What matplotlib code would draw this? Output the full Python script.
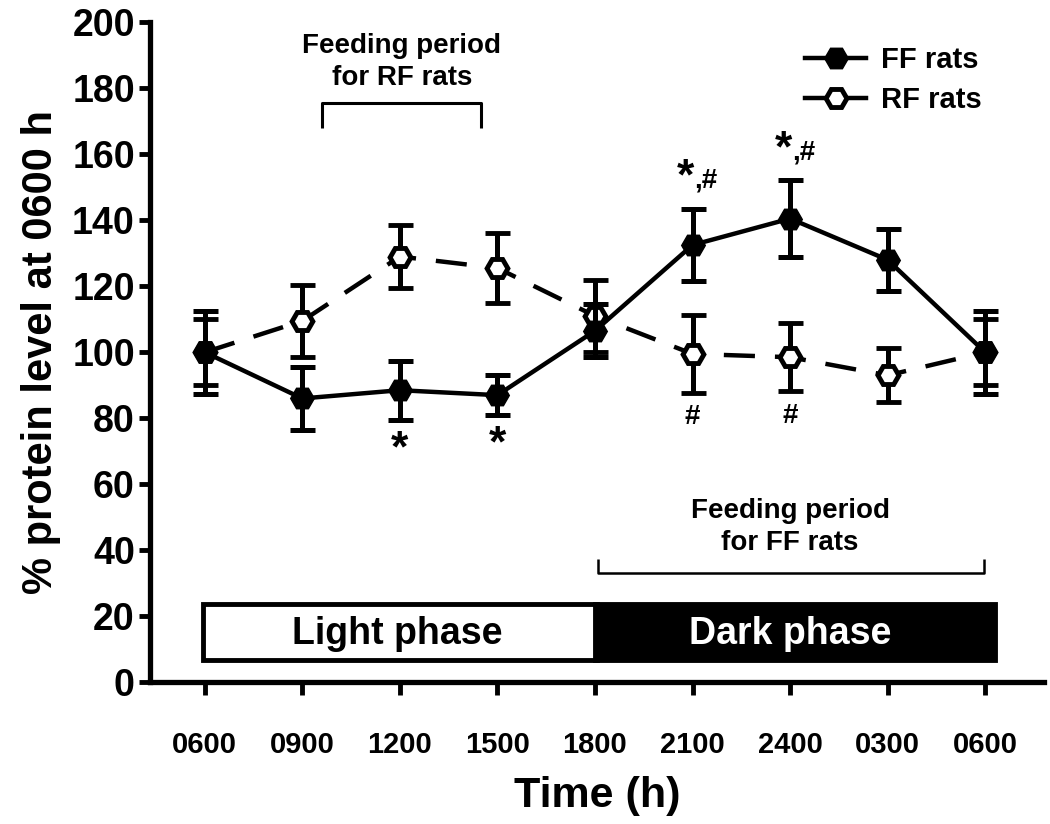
import matplotlib
matplotlib.use("Agg")
import matplotlib.pyplot as plt
import matplotlib.patches as mpatches
import matplotlib.font_manager as fm
from matplotlib.lines import Line2D
import numpy as np

# font choice: Arial-like bold, narrow variant for some labels if present
def pick(families):
    for f in families:
        try:
            fm.findfont(fm.FontProperties(family=f), fallback_to_default=False)
            return f
        except Exception:
            pass
    return "DejaVu Sans"

MAIN = pick(["Liberation Sans", "Arial", "DejaVu Sans"])
NARROW = pick(["Liberation Sans Narrow", "Arial Narrow", MAIN])
plt.rcParams["font.family"] = MAIN
plt.rcParams["font.weight"] = "bold"

# ── data ────────────────────────────────────────────────
time_labels = ["0600", "0900", "1200", "1500", "1800", "2100", "2400", "0300", "0600"]
ff_mean = [100, 86.0, 88.5, 87.0, 106.5, 132.5, 140.5, 128.0, 100]
ff_err = [12.5, 9.5, 9.0, 6.0, 8.0, 11.0, 11.7, 9.5, 12.5]
rf_mean = [100, 109.5, 129.0, 125.5, 111.0, 99.5, 98.5, 93.0, 100]
rf_err = [10.0, 11.0, 9.5, 10.5, 11.0, 11.8, 10.3, 8.2, 10.0]

star_below = [2, 3]               # '*' below FF points
hash_below = [5, 6]               # '#' below RF points
star_hash = [5, 6]                # '*,#' above FF points

x = np.arange(len(time_labels))

fig = plt.figure(figsize=(10.5, 8.24), dpi=100)
ax = fig.add_axes([0.143, 0.172, 0.851, 0.801])

# ── series ──────────────────────────────────────────────
ax.errorbar(x, rf_mean, yerr=rf_err, color="black", lw=3.2, dashes=(7, 4.5),
            marker="H", ms=15, mfc="white", mec="black", mew=3.5,
            elinewidth=3.6, capsize=9, capthick=3.6, zorder=3)
ax.errorbar(x, ff_mean, yerr=ff_err, color="black", lw=3.2, ls="-",
            marker="H", ms=17, mfc="black", mec="black",
            elinewidth=3.6, capsize=9, capthick=3.6, zorder=4)

# ── significance marks ─────────────────────────────────
for i in star_below:
    ax.text(x[i], ff_mean[i] - ff_err[i] - 3, "*", ha="center", va="top",
            fontsize=32, fontweight="bold")
for i in hash_below:
    ax.text(x[i], rf_mean[i] - rf_err[i] - 3.5, "#", ha="center", va="top",
            fontsize=20, fontweight="bold")
for i in star_hash:
    y0 = ff_mean[i] + ff_err[i] + 3.0
    ax.text(x[i] + 0.02, y0, "*", ha="right", va="bottom",
            fontsize=32, fontweight="bold")
    ax.text(x[i] + 0.02, y0 + 1.5, ",#", ha="left", va="bottom",
            fontsize=20, fontweight="bold")

# ── feeding period brackets ────────────────────────────
ax.plot([1.2, 1.2, 2.83, 2.83], [168, 175.5, 175.5, 168], color="black",
        lw=2.2, solid_capstyle="butt", clip_on=False)
ax.text(2.02, 188, "Feeding period\nfor RF rats", ha="center", va="center",
        fontsize=20, fontweight="bold", linespacing=1.3)

ax.plot([4.03, 4.03, 7.99, 7.99], [37.5, 33.2, 33.2, 37.5], color="black",
        lw=1.8, solid_capstyle="butt")
ax.text(6.0, 47.0, "Feeding period\nfor FF rats", ha="center", va="center",
        fontsize=20, fontweight="bold", linespacing=1.3)

# ── light / dark phase bar ──────────────────────────────
ax.add_patch(mpatches.Rectangle((-0.02, 6.7), 4.04, 17.0, fc="white",
                                ec="black", lw=3.5, zorder=2))
ax.add_patch(mpatches.Rectangle((4.0, 6.7), 4.1, 17.0, fc="black",
                                ec="black", lw=3.5, zorder=2))
ax.text(1.97, 14.6, "Light phase", ha="center", va="center",
        fontsize=27, fontweight="bold", family=NARROW, color="black")
ax.text(6.0, 14.6, "Dark phase", ha="center", va="center",
        fontsize=27, fontweight="bold", family=NARROW, color="white")

# ── axes styling ───────────────────────────────────────
ax.set_xlim(-0.56, 8.6)
ax.set_ylim(0, 200)
ax.set_yticks(np.arange(0, 201, 20))
ax.set_xticks(x)
ax.set_xticklabels(time_labels, family=NARROW, fontsize=21, fontweight="bold")
ax.tick_params(axis="y", labelsize=27, width=3.5, length=8, pad=3)
ax.tick_params(axis="x", width=3.5, length=9, pad=26)
for s in ["top", "right"]:
    ax.spines[s].set_visible(False)
for s in ["left", "bottom"]:
    ax.spines[s].set_linewidth(3.8)

ax.set_xlabel("Time (h)", fontsize=31, fontweight="bold", family=NARROW,
              labelpad=12)
ax.set_ylabel("% protein level at 0600 h", fontsize=30, fontweight="bold",
              family=NARROW, labelpad=8)

# legend: plain line + marker, no error bars
handles = [
    Line2D([], [], color="black", lw=3.2, marker="H", ms=17, mfc="black",
           mec="black"),
    Line2D([], [], color="black", lw=3.2, marker="H", ms=15, mfc="white",
           mec="black", mew=3.5),
]
leg = ax.legend(handles, ["FF rats", "RF rats"], loc="upper right",
                bbox_to_anchor=(0.96, 1.004), frameon=False, fontsize=21,
                handlelength=2.1, handletextpad=0.5, labelspacing=0.42)
for t in leg.get_texts():
    t.set_fontweight("bold")

fig.savefig("out.png", dpi=100)
